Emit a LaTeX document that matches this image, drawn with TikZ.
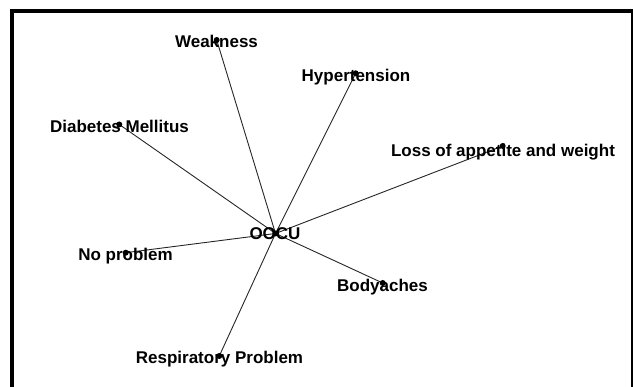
\documentclass[tikz,border=0pt]{standalone}
\usepackage{fontspec}
\setmainfont{Liberation Sans}
\begin{document}
\begin{tikzpicture}[x=1pt,y=-1pt,
  lbl/.style={font=\fontsize{17}{20}\selectfont\bfseries, inner sep=0pt, text=black},
  vdot/.style={circle, fill=black, inner sep=0pt, minimum size=6pt},
  edge/.style={draw=black!85, line width=0.9pt}]
\useasboundingbox (0,0) rectangle (633,387);
\begin{scope}
  \clip (0,0) rectangle (633,387);
  \draw[line width=4.3pt] (11.7,10.7) rectangle (632.7,420);
\end{scope}
% vertex positions
\coordinate (c)    at (275.5,233.5);
\coordinate (weak) at (216.7,40);
\coordinate (hyp)  at (355.7,73.3);
\coordinate (diab) at (119.3,124.5);
\coordinate (loss) at (502.7,146);
\coordinate (nop)  at (125.7,252.7);
\coordinate (body) at (382.7,283);
\coordinate (resp) at (219.3,356);
% edges
\foreach \t in {weak,hyp,diab,loss,nop,body,resp}
  \draw[edge] (c) -- (\t);
% labels
\node[lbl] (Lc)    at (275,234)     {OOCU};
\node[lbl] (Lweak) at (216.5,41.7)  {Weakness};
\node[lbl] (Lhyp)  at (356,77.5)    {Hypertension};
\node[lbl] (Ldiab) at (119.5,126)   {Diabetes Mellitus};
\node[lbl] (Lloss) at (503,151.7)   {Loss of appetite and weight};
\node[lbl] (Lnop)  at (125.5,256)   {No problem};
\node[lbl] (Lbody) at (382.5,287.5) {Bodyaches};
\node[lbl] (Lresp) at (219.5,359)   {Respiratory Problem};
% dots
\foreach \t in {c,weak,hyp,diab,loss,nop,body,resp}
  \node[vdot] (d\t) at (\t) {};
\end{tikzpicture}
\end{document}
